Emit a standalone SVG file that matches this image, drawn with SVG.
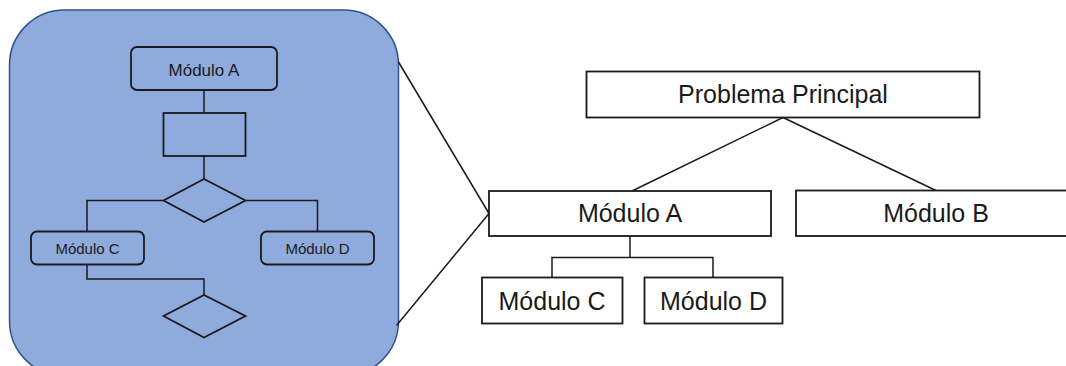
<svg xmlns="http://www.w3.org/2000/svg" width="1066" height="366" viewBox="0 0 1066 366">
<style>
.box{fill:#ffffff;stroke:#1a1a1a;stroke-width:1.8}
.sbox{fill:none;stroke:#1a1a1a;stroke-width:1.8}
.ln{fill:none;stroke:#1a1a1a;stroke-width:1.5}
.t{font-family:"Liberation Sans",Arial,sans-serif;fill:#1a1a1a;text-anchor:middle}
.tb{font-size:25px}
</style>
<rect width="1066" height="366" fill="#ffffff"/>
<g id="zoom-panel">
<rect x="9.5" y="10" width="389" height="366" rx="55" fill="#8FAADC" stroke="#2F528F" stroke-width="1.5"/>
</g>
<g id="connectors">
<line class="ln" x1="398.5" y1="62" x2="489" y2="213.5"/>
<line class="ln" x1="396.5" y1="325.5" x2="489" y2="213.5"/>
<polyline class="ln" points="204,90 204,113"/>
<polyline class="ln" points="204,156 204,179"/>
<polyline class="ln" points="163.5,200.5 87,200.5 87,231.5"/>
<polyline class="ln" points="245.5,200.5 317.5,200.5 317.5,231.5"/>
<polyline class="ln" points="87,264.5 87,279 204,279 204,295"/>
<line class="ln" x1="783" y1="117.5" x2="632" y2="191"/>
<line class="ln" x1="783" y1="117.5" x2="936" y2="190.5"/>
<polyline class="ln" points="630,236 630,257.5"/>
<polyline class="ln" points="552,277.5 552,257.5 713,257.5 713,277.5"/>
</g>
<g id="small-modulo-a">
<rect class="sbox" x="131" y="47" width="146" height="43" rx="6"/>
<text class="t" x="204" y="76" font-size="17">Módulo A</text>
</g>
<g id="small-process">
<rect class="sbox" x="163.5" y="113" width="82" height="43"/>
</g>
<g id="small-decision-1">
<polygon class="sbox" points="204,179 245.5,200.5 204,222 163.5,200.5"/>
</g>
<g id="small-modulo-c">
<rect class="sbox" x="31" y="231.5" width="113" height="33" rx="6"/>
<text class="t" x="87.5" y="254" font-size="15">Módulo C</text>
</g>
<g id="small-modulo-d">
<rect class="sbox" x="261" y="231.5" width="113" height="33" rx="6"/>
<text class="t" x="317.5" y="254" font-size="15">Módulo D</text>
</g>
<g id="small-decision-2">
<polygon class="sbox" points="204,295 245.5,316 204,337.5 163.5,316"/>
</g>
<g id="problema-principal">
<rect class="box" x="586.5" y="71.5" width="393" height="46"/>
<text class="t tb" x="783" y="103">Problema Principal</text>
</g>
<g id="modulo-a">
<rect class="box" x="489" y="191" width="282" height="45"/>
<text class="t tb" x="630" y="222">Módulo A</text>
</g>
<g id="modulo-b">
<rect class="box" x="796" y="190.5" width="280" height="45.5"/>
<text class="t tb" x="936" y="222">Módulo B</text>
</g>
<g id="modulo-c">
<rect class="box" x="482" y="277.5" width="140.5" height="46"/>
<text class="t tb" x="552" y="309.5">Módulo C</text>
</g>
<g id="modulo-d">
<rect class="box" x="644.5" y="277.5" width="138" height="46"/>
<text class="t tb" x="713.5" y="309.5">Módulo D</text>
</g>
</svg>
